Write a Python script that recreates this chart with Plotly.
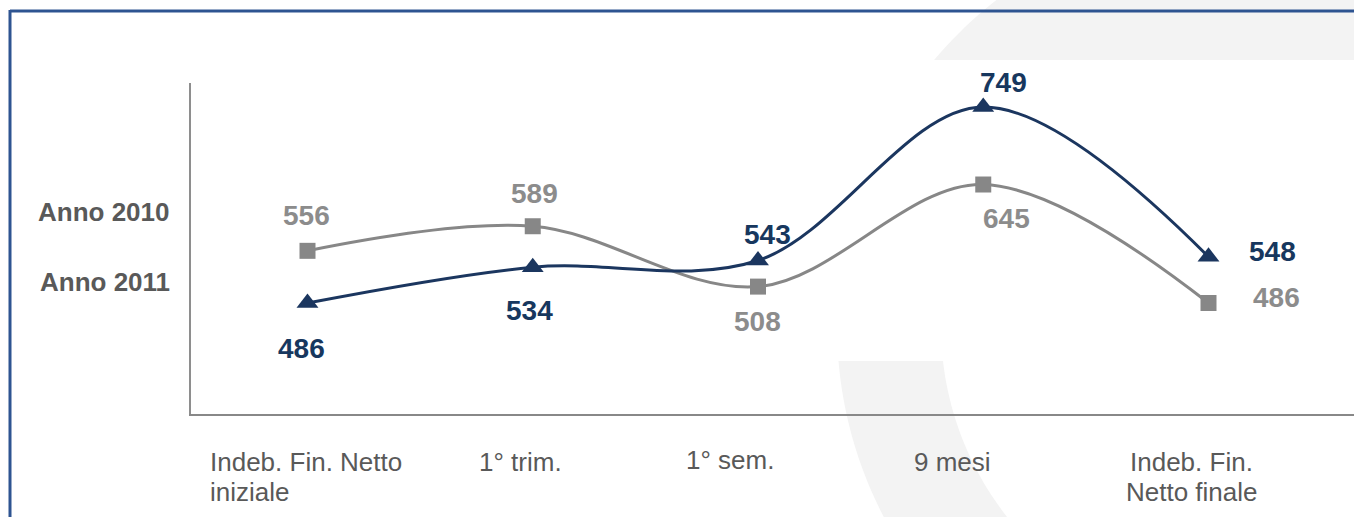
import numpy as np
import plotly.graph_objects as go

# ---------------- data ----------------
categories = ["Indeb. Fin. Netto<br>iniziale", "1° trim.", "1° sem.", "9 mesi", "Indeb. Fin.<br>Netto finale"]
anno_2010 = [556, 589, 508, 645, 486]
anno_2011 = [486, 534, 543, 749, 548]
series_names = ["Anno 2010", "Anno 2011"]

# ---------------- styling / positions (screen pixels) ----------------
W, H = 1354, 517
PL, PR, PT, PB = 191, 1354, 83, 414     # plot rectangle on screen
PW, PH = PR - PL, PB - PT

GRAY = "#878787"
GRAY_TXT = "#8C8C8C"
NAVY = "#1B365F"
NAVY_TXT = "#17375E"
TICK_TXT = "#595959"
FONT = "Arial, Liberation Sans, sans-serif"

off_2010 = [(-1, 35), (2, 33), (-1, -35), (23, -34), (68, 6)]
off_2011 = [(-6, -45), (-3, -43), (9, 26), (20, 25), (64, 5)]
cat_pos = [(-100, 462, "left"), (-12, 462, "center"), (-28, 460, "center"),
           (-31, 462, "center"), (-17, 462, "center")]
LINE_GAP = 30


def px(x):
    return (x - PL) / PW


def py(y):
    return (PB - y) / PH


x_idx = list(range(len(categories)))

fig = go.Figure()
fig.add_trace(go.Scatter(
    x=x_idx, y=anno_2010, mode="lines+markers", name=series_names[0],
    line=dict(color=GRAY, width=3, shape="spline", smoothing=1),
    marker=dict(symbol="square", size=16, color=GRAY),
))
fig.add_trace(go.Scatter(
    x=x_idx, y=anno_2011, mode="lines+markers", name=series_names[1],
    line=dict(color=NAVY, width=3, shape="spline", smoothing=1),
    marker=dict(symbol="triangle-up", size=19, color=NAVY),
))

ann = []
for i, v in enumerate(anno_2010):
    dx, dy = off_2010[i]
    ann.append(dict(x=i, y=v, xref="x", yref="y", text=f"<b>{v}</b>", showarrow=False,
                    xshift=dx, yshift=dy, font=dict(size=28, color=GRAY_TXT, family=FONT)))
for i, v in enumerate(anno_2011):
    dx, dy = off_2011[i]
    ann.append(dict(x=i, y=v, xref="x", yref="y", text=f"<b>{v}</b>", showarrow=False,
                    xshift=dx, yshift=dy, font=dict(size=28, color=NAVY_TXT, family=FONT)))
for i, c in enumerate(categories):
    dx, ypix, anc = cat_pos[i]
    lines = c.split("<br>")
    for k, line in enumerate(lines):
        ann.append(dict(x=i, y=py(ypix + k * LINE_GAP), xref="x", yref="paper", text=line,
                        showarrow=False, xshift=dx, xanchor=anc, yanchor="middle",
                        font=dict(size=26, color=TICK_TXT, family=FONT)))
for name, ypix in zip(series_names, [212, 282]):
    ann.append(dict(x=px(172), y=py(ypix), xref="paper", yref="paper", text=f"<b>{name}</b>",
                    showarrow=False, xanchor="right", yanchor="middle",
                    font=dict(size=26, color=TICK_TXT, family=FONT)))

# background decoration (light ring segment) + frame
cx, cy, Ro, Ri = 1250, 326, 413, 309


def arc_x(y, r):
    return cx - np.sqrt(max(r * r - (y - cy) ** 2, 0))


pts = [(arc_x(y, Ro), y) for y in np.linspace(-2, 60, 20)]
pts += [(1360, 60), (1360, -2)]
top_path = "M " + " L ".join(f"{px(a):.5f},{py(b):.5f}" for a, b in pts) + " Z"

ys = np.linspace(361, 522, 30)
pts = [(arc_x(y, Ro), y) for y in ys] + [(arc_x(y, Ri), y) for y in ys[::-1]]
bot_path = "M " + " L ".join(f"{px(a):.5f},{py(b):.5f}" for a, b in pts) + " Z"

shapes = [
    dict(type="path", path=top_path, xref="paper", yref="paper", fillcolor="#F3F3F3",
         line=dict(width=0), layer="below"),
    dict(type="path", path=bot_path, xref="paper", yref="paper", fillcolor="#F3F3F3",
         line=dict(width=0), layer="below"),
    dict(type="line", xref="paper", yref="paper", x0=px(10), x1=px(1360), y0=py(11), y1=py(11),
         line=dict(color="#2E5491", width=3)),
    dict(type="line", xref="paper", yref="paper", x0=px(10), x1=px(10), y0=py(10), y1=py(525),
         line=dict(color="#2E5491", width=3)),
]

# axis ranges so that categories / values sit at the reference pixel positions
step = 225.25
first = 307.5
x_range = [(PL - first) / step, (PR - first) / step]
y_per_px = (749 - 486) / (303 - 107)
y_range = [486 - (PB - 303) * y_per_px, 486 + (303 - PT) * y_per_px]

fig.update_layout(
    width=W, height=H,
    margin=dict(l=PL, r=W - PR, t=PT, b=H - PB, pad=0),
    paper_bgcolor="white", plot_bgcolor="rgba(0,0,0,0)",
    showlegend=False, hovermode=False,
    annotations=ann, shapes=shapes,
    xaxis=dict(range=x_range, showgrid=False, zeroline=False, showticklabels=False,
               showline=True, linecolor="#888888", linewidth=2, ticks=""),
    yaxis=dict(range=y_range, showgrid=False, zeroline=False, showticklabels=False,
               showline=True, linecolor="#8E8E8E", linewidth=2, ticks=""),
    font=dict(family=FONT),
)

fig.write_html("out.html", config={"displayModeBar": False},
               post_script="document.body.style.margin='0';document.body.style.overflow='hidden';")
